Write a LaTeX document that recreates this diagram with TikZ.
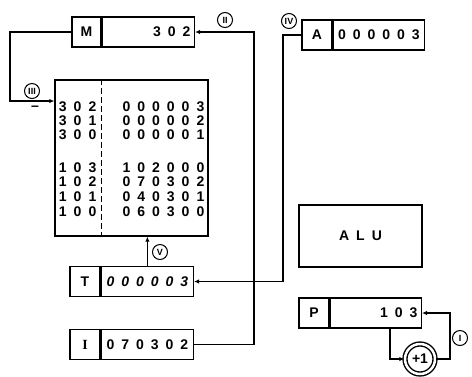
\documentclass[tikz,border=0pt]{standalone}
\usepackage{fontspec}
\setmainfont{Liberation Sans}
\newfontfamily\spaced[LetterSpace=50]{Liberation Sans}
\newfontfamily\serifname{Liberation Serif}
\usetikzlibrary{positioning,arrows.meta}

\begin{document}
\begin{tikzpicture}[x=1pt, y=-1pt, line width=1.4pt,
  font=\fontsize{14}{15}\selectfont\bfseries,
  regname/.style={draw, minimum width=29pt, minimum height=30pt, inner sep=0pt},
  regval/.style={draw, minimum height=30pt, inner xsep=4pt, inner ysep=0pt, font=\fontsize{14}{15}\spaced\bfseries},
  cell/.style={inner sep=0pt, anchor=east, font=\fontsize{14}{15}\spaced\bfseries},
  tag/.style={draw, circle, line width=1pt, inner sep=0.5pt, minimum size=15pt, font=\fontsize{9}{9}\selectfont\bfseries},
  arr/.style={-{Latex[length=5pt,width=4.5pt]}}]
\useasboundingbox (0,0) rectangle (472,376);

% registers
\node[regname] (M) at (86.5,32) {M};
\node[regval, right=0pt of M, text width=84pt, align=right] (Mval) {302};
\node[regname, minimum width=30pt] (A) at (317,35) {A};
\node[regval, right=0pt of A, minimum width=91pt] (Aval) {000003};
\node[regname, minimum width=30pt] (T) at (85,281.5) {T};
\node[regval, right=0pt of T, minimum width=92pt] (Tval) {\itshape 000003};
\node[regname, minimum width=30pt] (I) at (85,344.5) {\serifname\bfseries I};
\node[regval, right=0pt of I, minimum width=92pt] (Ival) {070302};
\node[regname, minimum width=30pt] (P) at (314,313) {P};
\node[regval, right=0pt of P, text width=83pt, align=right] (Pval) {103};

% memory
\node[draw, minimum width=153pt, minimum height=156pt] (mem) at (131.5,158) {};
\draw[dash pattern=on 6pt off 3pt, line width=1pt] (mem.north -| M.east) -- (mem.south -| M.east);
\foreach \addr/\word/\y in {302/000003/107, 301/000002/121, 300/000001/135,
                        103/102000/168, 102/070302/182, 101/040301/197, 100/060300/212}
{
  \node[cell] (a\addr) at (97,\y) {\addr};
  \node[cell] (w\addr) at (205,\y) {\word};
}

\node[draw, minimum width=123pt, minimum height=62pt, font=\fontsize{14}{15}\spaced\bfseries] (alu) at (360.5,236) {ALU};
\node[draw, circle, double, double distance=2.5pt, minimum size=30pt, inner sep=0pt] (plus) at (420,359) {+1};

% connectors
\coordinate (busI) at (254,0);
\coordinate (busM) at (10,101);
\coordinate (busA) at (283,0);
\coordinate (tapP) at (390,0);
\coordinate (retP) at (450,0);
\draw[arr] (Ival.east) -| (busI |- Mval.east) -- (Mval.east);
\draw[arr] (M.west) -| (busM) -- (busM -| mem.west);
\draw[arr] (A.west) -| (busA |- Tval.east) -- (Tval.east);
\draw[arr] (Tval.north) -- (Tval.north |- mem.south);
\draw[arr] (tapP |- Pval.south) |- (plus.west);
\draw[arr] (plus.east) -- (plus.east -| retP) |- (Pval.east);

% step tags
\node[tag] (t1) at (460,338) {I};
\node[tag] (t2) at (225,20) {II};
\node[tag] (t3) at (32,91) {III};
\node[tag] (t4) at (289,21) {IV};
\node[tag] (t5) at (160,252) {V};
\node (neg) at (35,108) {--};
\end{tikzpicture}
\end{document}
